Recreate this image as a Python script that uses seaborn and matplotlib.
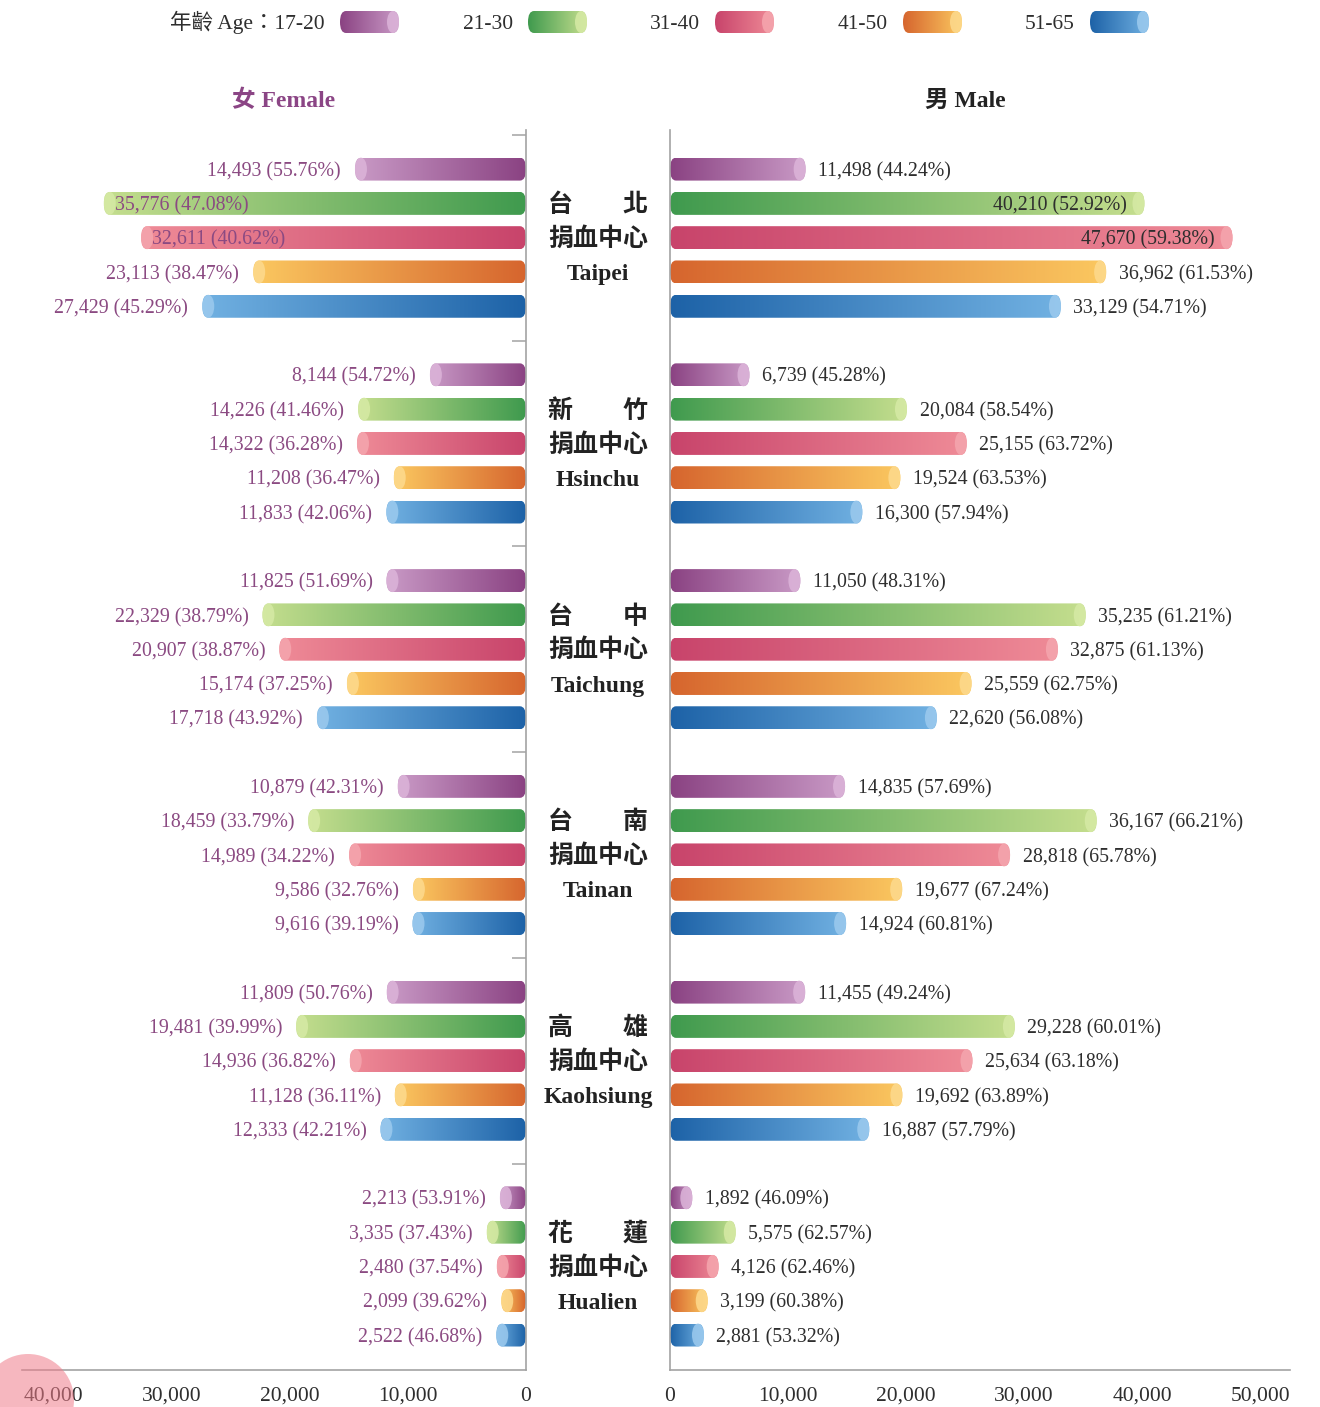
import numpy as np
import pandas as pd
import matplotlib
matplotlib.use('Agg')
import matplotlib.pyplot as plt
import seaborn as sns
from matplotlib.colors import LinearSegmentedColormap
from matplotlib.patches import FancyBboxPatch, Ellipse, Circle
from matplotlib.transforms import blended_transform_factory
from matplotlib.ticker import FuncFormatter

# ---- data ----
ages = ['17-20', '21-30', '31-40', '41-50', '51-65']
centers_zh = ['台北', '新竹', '台中', '台南', '高雄', '花蓮']
centers_en = ['Taipei', 'Hsinchu', 'Taichung', 'Tainan', 'Kaohsiung', 'Hualien']

female_counts = [
    [14493, 35776, 32611, 23113, 27429],
    [8144, 14226, 14322, 11208, 11833],
    [11825, 22329, 20907, 15174, 17718],
    [10879, 18459, 14989, 9586, 9616],
    [11809, 19481, 14936, 11128, 12333],
    [2213, 3335, 2480, 2099, 2522],
]
female_pct = [
    [55.76, 47.08, 40.62, 38.47, 45.29],
    [54.72, 41.46, 36.28, 36.47, 42.06],
    [51.69, 38.79, 38.87, 37.25, 43.92],
    [42.31, 33.79, 34.22, 32.76, 39.19],
    [50.76, 39.99, 36.82, 36.11, 42.21],
    [53.91, 37.43, 37.54, 39.62, 46.68],
]
male_counts = [
    [11498, 40210, 47670, 36962, 33129],
    [6739, 20084, 25155, 19524, 16300],
    [11050, 35235, 32875, 25559, 22620],
    [14835, 36167, 28818, 19677, 14924],
    [11455, 29228, 25634, 19692, 16887],
    [1892, 5575, 4126, 3199, 2881],
]
male_pct = [
    [44.24, 52.92, 59.38, 61.53, 54.71],
    [45.28, 58.54, 63.72, 63.53, 57.94],
    [48.31, 61.21, 61.13, 62.75, 56.08],
    [57.69, 66.21, 65.78, 67.24, 60.81],
    [49.24, 60.01, 63.18, 63.89, 57.79],
    [46.09, 62.57, 62.46, 60.38, 53.32],
]
left_ticks = [0, 10000, 20000, 30000, 40000]
right_ticks = [0, 10000, 20000, 30000, 40000, 50000]

# colours: at the axis, at the outer end, end cap
grad_inner = ['#8a4282', '#3f9a4e', '#c8446b', '#d6652e', '#1d62a7']
grad_outer = ['#c99ac6', '#c5de8e', '#ef8b97', '#fbc860', '#71b1e2']
grad_cap = ['#dcb4d9', '#d6eaa5', '#f5a6ae', '#fdda8e', '#9ccaee']

FEMALE_COL = '#8b4a82'
DARK = '#2e2e2e'
GRID = '#a3a3a3'

sns.set_style('white')
plt.rcParams['font.family'] = ['Liberation Serif', 'Noto Sans CJK TC', 'DejaVu Sans']

W, H = 1320, 1407
fig = plt.figure(figsize=(W / 100, H / 100), dpi=100)


def px_box(x0, x1, y_top, y_bot):
    return [x0 / W, 1 - y_bot / H, (x1 - x0) / W, (y_bot - y_top) / H]


axl = fig.add_axes(px_box(22, 526, 130, 1370))
axr = fig.add_axes(px_box(670, 1290, 130, 1370))

SLOT = len(ages) + 1


def make_df(counts):
    rows = []
    for g, grp in enumerate(counts):
        for i, v in enumerate(grp):
            rows.append({'pos': g * SLOT + i, 'count': v, 'age': ages[i]})
    return pd.DataFrame(rows)


df_f = make_df(female_counts)
df_m = make_df(male_counts)
pal = dict(zip(ages, grad_inner))

for ax, df in [(axl, df_f), (axr, df_m)]:
    sns.barplot(data=df, x='count', y='pos', hue='age', orient='h', native_scale=True,
                dodge=False, width=0.67, errorbar=None, palette=pal, legend=False, ax=ax)
    ax.set_xlabel('')
    ax.set_ylabel('')

n_pos = len(centers_en) * SLOT
ylim = (n_pos - 0.98, -1.14)
axl.set_xlim(42700, 0)
axr.set_xlim(0, 52540)
for ax in (axl, axr):
    ax.set_ylim(*ylim)


def units_per_px(ax):
    bb = ax.get_position()
    x0, x1 = ax.get_xlim()
    y0, y1 = ax.get_ylim()
    return abs(x1 - x0) / (bb.width * W), abs(y1 - y0) / (bb.height * H)


def capsule(ax, x0, length, yc, h, i, ux, z=2, cap_px=6):
    rx = cap_px * ux
    m_aspect = (h / 2) / rx
    clip = FancyBboxPatch((x0, yc - h / 2), length, h,
                          boxstyle=f'round,pad=0,rounding_size={rx}',
                          mutation_aspect=m_aspect, facecolor='none', edgecolor='none')
    ax.add_patch(clip)
    cmap = LinearSegmentedColormap.from_list('g', [grad_inner[i], grad_outer[i]])
    im = ax.imshow(np.linspace(0, 1, 256).reshape(1, -1), extent=(x0, x0 + length, yc + h / 2, yc - h / 2),
                   aspect='auto', cmap=cmap, interpolation='bilinear', zorder=z)
    im.set_clip_path(clip)
    ax.add_patch(Ellipse((x0 + length - rx, yc), 2 * rx, h, facecolor=grad_cap[i],
                         edgecolor='none', zorder=z + 0.5, alpha=0.85))


def dress(ax, counts, pcts, side):
    ux, uy = units_per_px(ax)
    xmax = max(ax.get_xlim())
    for p in list(ax.patches):
        w, hgt = p.get_width(), p.get_height()
        yc = p.get_y() + hgt / 2
        pos = int(round(yc))
        g, i = divmod(pos, SLOT)
        p.set_visible(False)
        capsule(ax, 0, w, yc, hgt, i, ux)
        v, pc = counts[g][i], pcts[g][i]
        txt = f'{v:,} ({pc:.2f}%)'
        inside = v > 0.74 * xmax
        col = FEMALE_COL if side == 'L' else DARK
        if side == 'L':
            off, ha = ((8, 0), 'left') if inside else ((-10, 0), 'right')
        else:
            off, ha = ((-13, 0), 'right') if inside else ((9, 0), 'left')
        ax.annotate(txt, (w, yc), xytext=off, textcoords='offset points', ha=ha, va='center_baseline',
                    fontsize=14.3, color=col, zorder=5)
    ax.set_xlim(*ax.get_xlim())
    ax.set_ylim(*ylim)


dress(axl, female_counts, female_pct, 'L')
dress(axr, male_counts, male_pct, 'R')

fmt = FuncFormatter(lambda v, _: f'{int(v):,}')
group_ticks = [g * SLOT - 1 for g in range(len(centers_en))]
for ax, ticks, keep in [(axl, left_ticks, 'right'), (axr, right_ticks, 'left')]:
    for s in ['top', 'left', 'right', 'bottom']:
        ax.spines[s].set_visible(s in (keep, 'bottom'))
        ax.spines[s].set_color(GRID)
        ax.spines[s].set_linewidth(1.2)
    ax.set_xticks(ticks)
    ax.xaxis.set_major_formatter(fmt)
    ax.set_yticks(group_ticks)
    ax.set_yticklabels([])
    ax.tick_params(axis='x', direction='in', length=11, width=1.1, color=GRID,
                   labelsize=15.5, labelcolor=DARK, pad=12)
    ax.tick_params(axis='y', direction='in', length=10, width=1.1, color=GRID)
    ax.grid(False)
axl.yaxis.tick_right()
axl.tick_params(axis='y', direction='in', length=10, width=1.1, color=GRID, labelright=False)

# centre labels
trans = blended_transform_factory(fig.transFigure, axr.transData)
cx = 598 / W
for g in range(len(centers_en)):
    zh = centers_zh[g]
    axr.text(cx, g * SLOT + 1.05, zh[0] + '\u3000\u3000' + zh[1], transform=trans, ha='center', va='center',
             fontsize=18, fontweight='bold', family=['Noto Sans CJK TC'], color='#222', clip_on=False)
    axr.text(cx, g * SLOT + 2.03, '捐血中心', transform=trans, ha='center', va='center',
             fontsize=18, fontweight='bold', family=['Noto Sans CJK TC'], color='#222', clip_on=False)
    axr.text(cx, g * SLOT + 3.08, centers_en[g], transform=trans, ha='center', va='center',
             fontsize=17, fontweight='bold', color='#222', clip_on=False)

# overlay in pixel coordinates for headers, legend and the corner dot
ov = fig.add_axes([0, 0, 1, 1])
ov.set_xlim(0, W)
ov.set_ylim(H, 0)
ov.axis('off')
ov.patch.set_visible(False)

ov.text(284, 101, '女 Female', ha='center', va='center', fontsize=17, fontweight='bold', color='#8b4585')
ov.text(965, 101, '男 Male', ha='center', va='center', fontsize=17, fontweight='bold', color='#222')

sw_x = [340, 528, 715, 903, 1090]
for i, a in enumerate(ages):
    lab = ('年齡 Age：' + a) if i == 0 else a
    ov.text(sw_x[i] - 15, 29, lab, ha='right', va='baseline', fontsize=15.5, color=DARK)
    capsule(ov, sw_x[i], 59, 22, 22, i, 1.0)

ov.add_patch(Circle((28, 1400), 46, facecolor='#f07d8b', edgecolor='none', alpha=0.55, zorder=10))
ov.set_xlim(0, W)
ov.set_ylim(H, 0)

fig.savefig('out.png', dpi=100)
